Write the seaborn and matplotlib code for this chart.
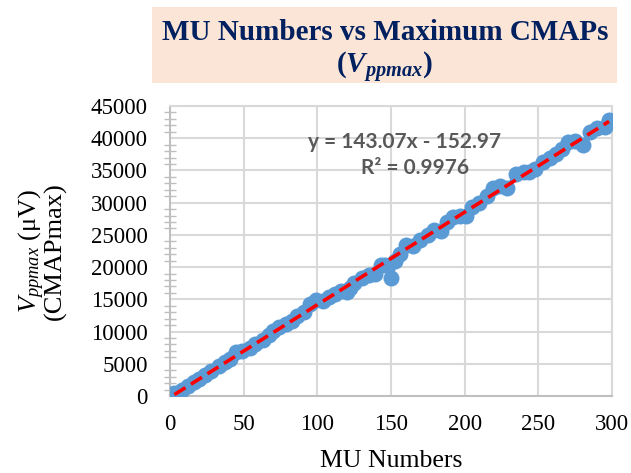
import numpy as np
import pandas as pd
import matplotlib
matplotlib.use("Agg")
import matplotlib.pyplot as plt
from matplotlib.patches import Rectangle
from matplotlib.ticker import MultipleLocator
import seaborn as sns

# ---- data ----
mu_numbers = [3, 8, 12, 16, 20, 24, 28, 33, 37, 41, 45, 49, 54, 58, 63, 67, 70, 74, 79, 83,
              86, 91, 95, 99, 104, 108, 112, 116, 120, 122, 125, 130, 135, 139, 143, 146, 150,
              153, 156, 160, 165, 170, 175, 179, 184, 188, 192, 197, 201, 205, 210, 215, 219,
              224, 229, 235, 240, 244, 248, 253, 258, 262, 266, 270, 275, 280, 285, 290, 295, 298]
vppmax = [500, 1000, 1600, 2200, 2700, 3300, 3900, 4600, 5200, 5700, 6900, 7000, 7500, 8100,
          8700, 9400, 10100, 10700, 11100, 11700, 12400, 13000, 14200, 14900, 14800, 15400,
          15900, 16300, 16200, 16800, 17500, 18300, 18700, 19000, 20400, 20300, 18300, 21000,
          22000, 23500, 23200, 24200, 25000, 25700, 25600, 27000, 27800, 28000, 27900, 29400,
          30000, 31000, 32300, 32600, 32300, 34400, 34700, 34700, 35300, 36300, 37000, 37600,
          38300, 39400, 39500, 39000, 41000, 41600, 41800, 42800]
x_ticks = [0, 50, 100, 150, 200, 250, 300]
y_ticks = [0, 5000, 10000, 15000, 20000, 25000, 30000, 35000, 40000, 45000]
equation_text = "y = 143.07x - 152.97"
r2_text = "R² = 0.9976"

df = pd.DataFrame({"MU": mu_numbers, "V": vppmax})

sns.set_theme(style="white")
plt.rcParams['font.family'] = ['Liberation Serif', 'DejaVu Serif']
plt.rcParams['mathtext.fontset'] = 'custom'
plt.rcParams['mathtext.rm'] = 'Liberation Serif'
plt.rcParams['mathtext.it'] = 'Liberation Serif:italic'
plt.rcParams['mathtext.bf'] = 'Liberation Serif:bold'
plt.rcParams['mathtext.bfit'] = 'Liberation Serif:bold:italic'

fig = plt.figure(figsize=(6.31, 4.73), dpi=100)
ax = fig.add_axes([170/631, 1-396/473, (612-170)/631, (396-106)/473])

grid_c = "#D9D9D9"
ax.set_xlim(0, 300)
ax.set_ylim(0, 45000)
ax.set_xticks(x_ticks)
ax.set_yticks(y_ticks)
ax.yaxis.set_minor_locator(MultipleLocator(1000))
ax.grid(True, which="major", color=grid_c, linewidth=1.5)
ax.set_axisbelow(True)
for s in ax.spines.values():
    s.set_color(grid_c)
    s.set_linewidth(1.5)
ax.spines['left'].set_color("#BFBFBF")
ax.spines['bottom'].set_color("#BFBFBF")

sns.lineplot(data=df, x="MU", y="V", ax=ax, color="#5B9BD5", linewidth=3.4,
             marker="o", markersize=11.5, markeredgewidth=0, sort=False, zorder=3)
sns.regplot(data=df, x="MU", y="V", ax=ax, scatter=False, ci=None, truncate=True,
            line_kws=dict(color="#FF0000", linewidth=2.6, linestyle=(0, (3.6, 1.8))),
            )
for l in ax.lines[1:]:
    l.set_zorder(4)

ax.tick_params(axis="x", which="both", length=0, labelsize=16.5, colors="black", pad=13)
ax.tick_params(axis="y", which="major", direction="inout", length=10, width=1.2,
               color="#BFBFBF", labelsize=16.5, labelcolor="black", pad=11)
ax.tick_params(axis="y", which="minor", direction="inout", length=8, width=1.0,
               color="#BFBFBF", left=True)

ax.set_xlabel("MU Numbers", fontsize=18.5, color="black", labelpad=11)
ax.set_ylabel("$V_{ppmax}$ (μV)\n(CMAPmax)", fontsize=19, color="black",
              linespacing=0.85, labelpad=17)

ax.text(0.53, 0.877, equation_text, transform=ax.transAxes, ha="center", va="center",
        fontsize=15, fontweight="bold", color="#595959", family=["Lato", "DejaVu Sans"])
ax.text(0.555, 0.787, r2_text, transform=ax.transAxes, ha="center", va="center",
        fontsize=15, fontweight="bold", color="#595959", family=["Lato", "DejaVu Sans"])

# title box
fig.patches.append(Rectangle((152/631, 1-83/473), (617-152)/631, (83-7)/473,
                             transform=fig.transFigure, facecolor="#FBE5D6",
                             edgecolor="none", zorder=0))
fig.text(385/631, 1-32/473, "MU Numbers vs Maximum CMAPs", ha="center", va="center",
         fontsize=21, fontweight="bold", color="#002060")
fig.text(385/631, 1-67/473, r"$\mathbf{(}\mathbfit{V}_{\mathbfit{ppmax}}\mathbf{)}$",
         ha="center", va="center", fontsize=21, color="#002060")

fig.savefig("out.png", dpi=100)
